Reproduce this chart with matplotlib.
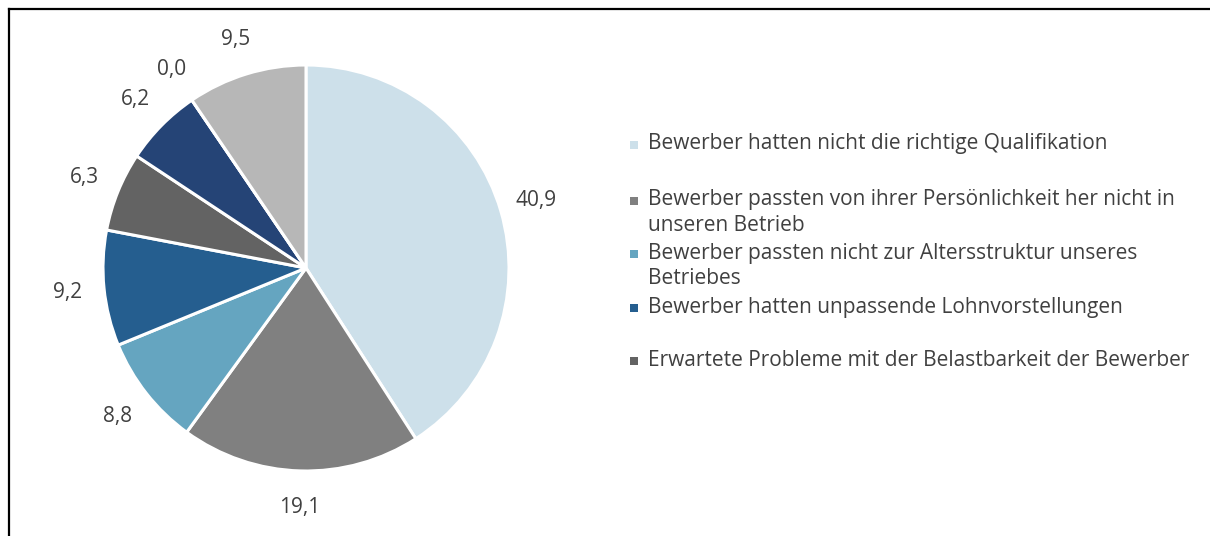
import matplotlib.pyplot as plt
from matplotlib.lines import Line2D
from matplotlib.patches import Rectangle

# Gründe, warum Bewerber nicht eingestellt wurden (Anteile in %)
categories = [
    "Bewerber hatten nicht die richtige Qualifikation",
    "Bewerber passten von ihrer Persönlichkeit her nicht in\nunseren Betrieb",
    "Bewerber passten nicht zur Altersstruktur unseres\nBetriebes",
    "Bewerber hatten unpassende Lohnvorstellungen",
    "Erwartete Probleme mit der Belastbarkeit der Bewerber",
    "Sonstiges (nicht sichtbar)",
    "Andere Gründe",
    "Keine Angabe",
]
values = [40.9, 19.1, 8.8, 9.2, 6.3, 6.2, 0.0, 9.5]
colors = ["#cde0ea", "#808080", "#65a5c0", "#255e8f", "#636363", "#254476", "#a6a6a6", "#b7b7b7"]
legend_shown = 5  # nur die ersten fünf Einträge passen in die Legende

plt.rcParams['font.family'] = ['Open Sans', 'DejaVu Sans']
text_color = "#404040"
fs = 15

W, H = 1210, 536
fig = plt.figure(figsize=(W / 100, H / 100), dpi=100)

# Pie-Achse: Mittelpunkt (306, 268) px, Radius 203 px
cx, cy, r = 306, 268, 203
pad = 1.02
ax = fig.add_axes([(cx - r * pad) / W, (H - cy - r * pad) / H, 2 * r * pad / W, 2 * r * pad / H])
wedges, texts = ax.pie(
    values,
    colors=colors,
    startangle=90,
    counterclock=False,
    labels=[f"{v:.1f}".replace(".", ",") for v in values],
    labeldistance=1.18,
    wedgeprops=dict(edgecolor="white", linewidth=2.2),
    textprops=dict(color=text_color, fontsize=fs),
)
for t in texts:
    t.set_ha("center")
    t.set_va("center")
ax.set_xlim(-pad, pad)
ax.set_ylim(-pad, pad)
ax.set_aspect("equal")

# Legende manuell, wie im Original (nur fünf Einträge)
legend_y = [144, 200, 253, 307, 360]
for i in range(legend_shown):
    y = 1 - legend_y[i] / H
    fig.patches.append(Rectangle((630 / W, y - 5 / H), 8 / W, 8 / H,
                                 transform=fig.transFigure, facecolor=colors[i], edgecolor="none"))
    for j, line in enumerate(categories[i].split("\n")):
        fig.text(648 / W, y - j * 26 / H, line, color=text_color, fontsize=fs,
                 va="center", ha="left")

# schwarzer Rahmen (oben und links sichtbar)
y_top = 1 - 9 / H
x_left = 9 / W
fig.add_artist(Line2D([x_left, 1.0], [y_top, y_top], color="black", linewidth=1.6,
                      transform=fig.transFigure, solid_capstyle="projecting"))
fig.add_artist(Line2D([x_left, x_left], [0.0, y_top], color="black", linewidth=1.6,
                      transform=fig.transFigure, solid_capstyle="projecting"))

fig.savefig("out.png", dpi=100)
